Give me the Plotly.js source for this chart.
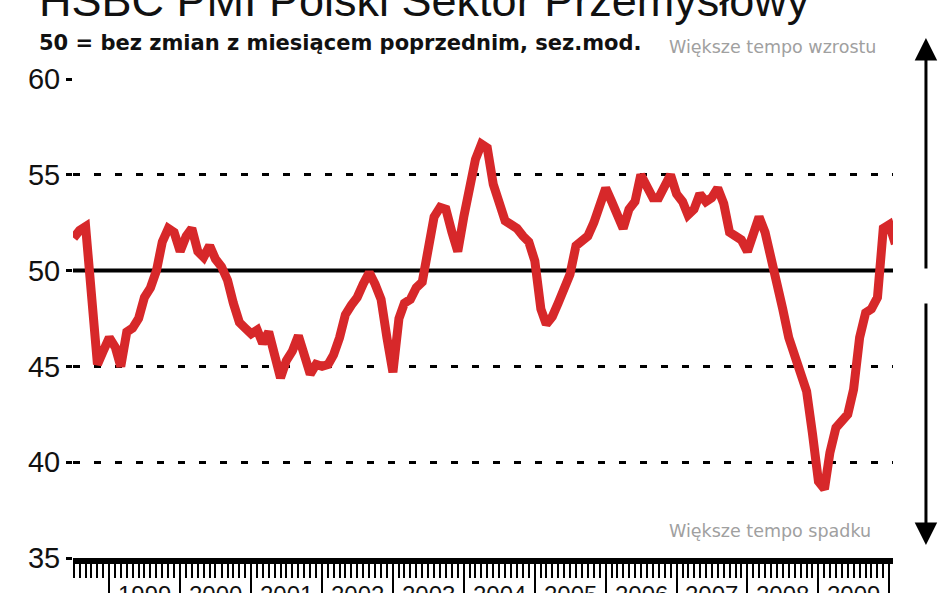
<!DOCTYPE html>
<html>
<head>
<meta charset="utf-8">
<script src="https://cdn.plot.ly/plotly-3.0.1.min.js"></script>
<style>html,body{margin:0;padding:0;background:#fff}#chart{width:948px;height:593px}</style>
</head>
<body>
<div id="chart"></div>
<script>
// HSBC PMI Poland, monthly values (first month of each block given)
const pmi1998 = [51.7, 52.1, 52.3, 48.0, 45.1, 45.8];            // from Jul
const pmi1999 = [46.5, 46.0, 45.0, 46.8, 47.0, 47.5, 48.6, 49.1, 50.0, 51.5, 52.2, 52.0];
const pmi2000 = [51.0, 51.8, 52.2, 51.0, 50.7, 51.3, 50.6, 50.2, 49.5, 48.3, 47.3, 47.0];
const pmi2001 = [46.7, 46.9, 46.2, 46.8, 45.8, 44.4, 45.3, 45.8, 46.6, 45.4, 44.6, 45.1];
const pmi2002 = [45.0, 45.1, 45.6, 46.5, 47.7, 48.2, 48.6, 49.3, 49.9, 49.3, 48.5, 46.5];
const pmi2003 = [44.7, 47.5, 48.3, 48.5, 49.1, 49.4, 51.0, 52.8, 53.3, 53.2, 52.0, 51.0];
const pmi2004 = [52.8, 54.3, 55.8, 56.6, 56.4, 54.5, 53.5, 52.6, 52.4, 52.2, 51.8, 51.5];
const pmi2005 = [50.5, 48.0, 47.2, 47.6, 48.3, 49.0, 49.8, 51.3, 51.5, 51.8, 52.5, 53.3];
const pmi2006 = [54.3, 53.6, 52.8, 52.2, 53.2, 53.6, 55.0, 54.5, 53.8, 53.8, 54.5, 55.0];
const pmi2007 = [54.0, 53.6, 52.9, 53.2, 54.0, 53.6, 53.8, 54.3, 53.5, 52.0, 51.8, 51.6];
const pmi2008 = [51.0, 52.0, 52.8, 52.0, 50.8, 49.5, 48.0, 46.5, 45.6, 44.8, 43.7, 41.5];
const pmi2009 = [39.0, 38.6, 40.5, 41.8, 42.2, 42.5, 43.8, 46.5, 47.8, 48.0, 48.6, 52.2];
const pmi2010 = [52.4, 51.4];

const yearBlocks = [
  [1998, 7, pmi1998], [1999, 1, pmi1999], [2000, 1, pmi2000], [2001, 1, pmi2001],
  [2002, 1, pmi2002], [2003, 1, pmi2003], [2004, 1, pmi2004], [2005, 1, pmi2005],
  [2006, 1, pmi2006], [2007, 1, pmi2007], [2008, 1, pmi2008], [2009, 1, pmi2009],
  [2010, 1, pmi2010]
];
const yearLabels = ['1999','2000','2001','2002','2003','2004','2005','2006','2007','2008','2009'];
const yTicks = [35, 40, 45, 50, 55, 60];

const titleText = 'HSBC PMI Polski Sektor Przemysłowy';
const subtitleText = '50 = bez zmian z miesiącem poprzednim, sez.mod.';
const upText = 'Większe tempo wzrostu';
const downText = 'Większe tempo spadku';

const xs = [], ys = [];
yearBlocks.forEach(([yr, m0, vals]) => {
  vals.forEach((v, i) => {
    const m = m0 + i;
    xs.push(yr + '-' + String(m).padStart(2, '0') + '-01');
    ys.push(v);
  });
});

const FONT = 'Liberation Sans, Arial, sans-serif';
const WIDE = 'DejaVu Sans, Liberation Sans, sans-serif';

const trace = {
  type: 'scatter', mode: 'lines', x: xs, y: ys,
  line: {color: '#d7282a', width: 9},
  hoverinfo: 'x+y'
};

const annotations = [
  {text: subtitleText, xref: 'paper', yref: 'paper', x: -0.044, y: 1.0752,
   xanchor: 'left', yanchor: 'middle', showarrow: false,
   font: {family: WIDE, size: 21, color: '#111', weight: 'bold'}},
  {text: upText, xref: 'paper', yref: 'paper', x: 0.7244, y: 1.0668,
   xanchor: 'left', yanchor: 'middle', showarrow: false,
   font: {family: WIDE, size: 17.5, color: '#a0a0a0'}},
  {text: downText, xref: 'paper', yref: 'paper', x: 0.7244, y: 0.0564,
   xanchor: 'left', yanchor: 'middle', showarrow: false,
   font: {family: WIDE, size: 17.5, color: '#a0a0a0'}},
  {text: '', xref: 'paper', yref: 'paper', x: 1.0402, y: 1.0856,
   axref: 'pixel', ayref: 'pixel', ax: 0, ay: 232, showarrow: true,
   arrowhead: 2, arrowsize: 1.5, arrowwidth: 3, arrowcolor: '#000', standoff: 0},
  {text: '', xref: 'paper', yref: 'paper', x: 1.0402, y: 0.0271,
   axref: 'pixel', ayref: 'pixel', ax: 0, ay: -243, showarrow: true,
   arrowhead: 2, arrowsize: 1.5, arrowwidth: 3, arrowcolor: '#000', standoff: 0}
];
yearLabels.forEach(y => {
  annotations.push({text: y, xref: 'x', yref: 'paper', x: y + '-07-02', y: 0,
    xanchor: 'center', yanchor: 'top', yshift: -21, showarrow: false,
    font: {family: FONT, size: 24, color: '#111'}});
});

const layout = {
  width: 948, height: 593,
  margin: {l: 73, r: 55, t: 79, b: 35, pad: 0},
  paper_bgcolor: '#fff', plot_bgcolor: '#fff',
  showlegend: false,
  title: {text: titleText, xref: 'container', yref: 'container', x: 39/948, xanchor: 'left',
          y: 1, yanchor: 'middle',
          font: {family: FONT, size: 45, color: '#111'}},
  xaxis: {
    type: 'date', range: ['1998-06-28', '2010-01-20'],
    showgrid: false, zeroline: false,
    showline: true, linewidth: 6, linecolor: '#000',
    ticks: 'outside', tick0: '1999-01-01', dtick: 'M12', ticklen: 40, tickwidth: 2, tickcolor: '#000',
    showticklabels: false,
    minor: {dtick: 'M1', ticks: 'outside', ticklen: 14, tickwidth: 2, tickcolor: '#000', showgrid: false}
  },
  yaxis: {
    range: [35, 60], tickvals: yTicks, ticktext: yTicks.map(String),
    ticks: 'outside', ticklen: 6, tickwidth: 3, tickcolor: '#000',
    showgrid: true, gridcolor: '#000', gridwidth: 3, griddash: '7px,14px',
    showline: false, zeroline: false,
    tickfont: {family: FONT, size: 29, color: '#111'}
  },
  shapes: [
    {type: 'line', xref: 'paper', x0: 0, x1: 1, yref: 'y', y0: 50, y1: 50,
     line: {color: '#000', width: 4}, layer: 'below'}
  ],
  annotations: annotations
};

Plotly.newPlot('chart', [trace], layout, {displayModeBar: false, staticPlot: true});
</script>
</body>
</html>
